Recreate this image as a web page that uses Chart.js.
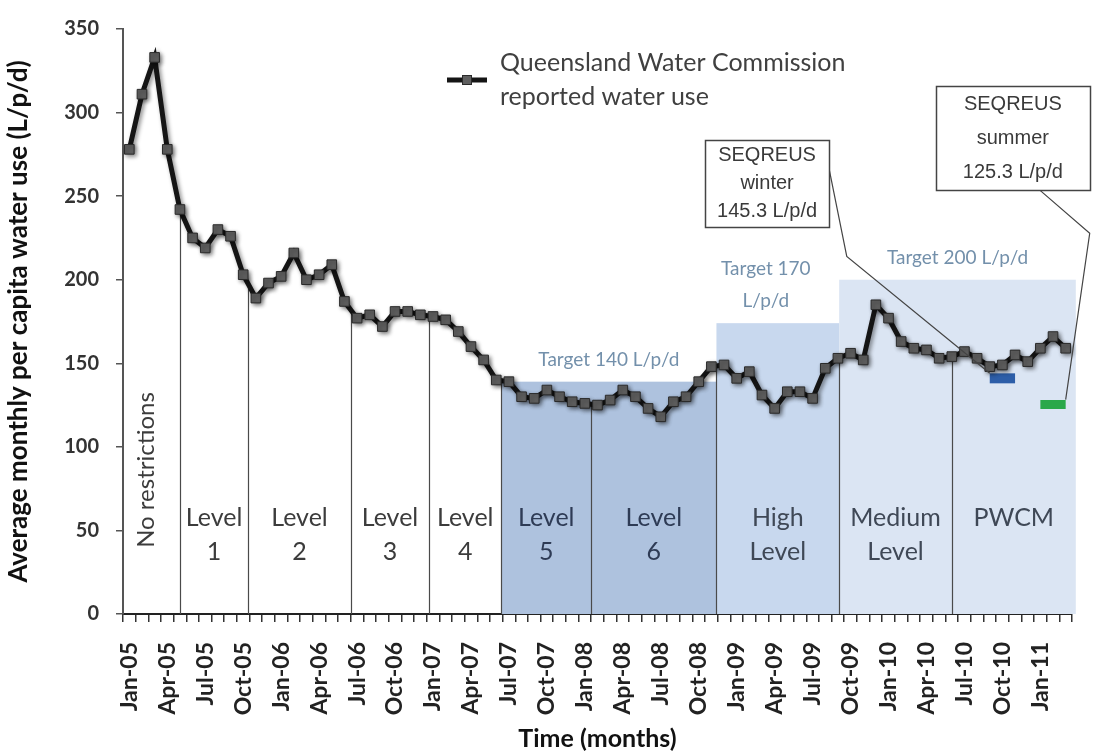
<!DOCTYPE html>
<html>
<head>
<meta charset="utf-8">
<script src="https://cdn.jsdelivr.net/npm/chart.js@4.4.1/dist/chart.umd.min.js"></script>
<style>
  html, body { margin: 0; padding: 0; background: #fff; }
  #wrap { width: 1097px; height: 756px; }
</style>
</head>
<body>
<div id="wrap"><canvas id="graph1"></canvas></div>
<script>
// monthly categories, Jan-05 .. Mar-11
const months = [
  'Jan-05','Feb-05','Mar-05','Apr-05','May-05','Jun-05','Jul-05','Aug-05','Sep-05','Oct-05','Nov-05','Dec-05',
  'Jan-06','Feb-06','Mar-06','Apr-06','May-06','Jun-06','Jul-06','Aug-06','Sep-06','Oct-06','Nov-06','Dec-06',
  'Jan-07','Feb-07','Mar-07','Apr-07','May-07','Jun-07','Jul-07','Aug-07','Sep-07','Oct-07','Nov-07','Dec-07',
  'Jan-08','Feb-08','Mar-08','Apr-08','May-08','Jun-08','Jul-08','Aug-08','Sep-08','Oct-08','Nov-08','Dec-08',
  'Jan-09','Feb-09','Mar-09','Apr-09','May-09','Jun-09','Jul-09','Aug-09','Sep-09','Oct-09','Nov-09','Dec-09',
  'Jan-10','Feb-10','Mar-10','Apr-10','May-10','Jun-10','Jul-10','Aug-10','Sep-10','Oct-10','Nov-10','Dec-10',
  'Jan-11','Feb-11','Mar-11'
];

// L/p/d
const waterUse = [
  278, 311, 333, 278, 242, 225, 219, 230, 226, 203, 189, 198,
  202, 216, 200, 203, 209, 187, 177, 179, 172, 181, 181, 179,
  178, 176, 169, 160, 152, 140, 139, 130, 129, 134, 130, 127,
  126, 125, 128, 134, 130, 123, 118, 127, 130, 139, 148, 149,
  141, 145, 131, 123, 133, 133, 129, 147, 153, 156, 152, 185,
  177, 163, 159, 158, 153, 154, 157, 153, 148, 149, 155, 151,
  159, 166, 159
];

const yTicks = [0, 50, 100, 150, 200, 250, 300, 350];

const winterMonths = ['Sep-10', 'Nov-10'];
const winterValue = 141;
const summerMonths = ['Jan-11', 'Mar-11'];
const summerValue = 125.3;

// restriction periods (start as month index, fractional)
const regionNames = [['No restrictions'], ['Level', '1'], ['Level', '2'], ['Level', '3'], ['Level', '4'],
  ['Level', '5'], ['Level', '6'], ['High', 'Level'], ['Medium', 'Level'], ['PWCM']];
const regionStarts = [-0.5, 4, 9.4, 17.5, 23.7, 29.4, 36.5, 46.4, 56.1, 65];
const regionEnd = 74.8;

// consumption targets
const targetNames = [['Target 140 L/p/d'], ['Target 170', 'L/p/d'], ['Target 200 L/p/d']];
const targetFrom = [29.4, 46.4, 56.1];
const targetTo = [46.4, 56.1, 74.8];
const targetValues = [139, 174, 200];

const calloutText = [['SEQREUS', 'winter', '145.3 L/p/d'], ['SEQREUS', 'summer', '125.3 L/p/d']];

const LATO = 'Lato, "Open Sans", sans-serif';

const backdrop = {
  id: 'backdrop',
  beforeDatasetsDraw(chart) {
    const {ctx, scales: {x, y}} = chart;
    const pts = chart.getDatasetMeta(0).data;
    const lineAt = idx => {
      const i0 = Math.max(0, Math.min(pts.length - 2, Math.floor(idx)));
      const t = idx - i0;
      return pts[i0].y + (pts[i0 + 1].y - pts[i0].y) * t;
    };
    const fills = ['#aec2de', '#c8d8ee', '#dbe5f3'];
    const y0 = y.getPixelForValue(0);
    ctx.save();
    targetValues.forEach((v, k) => {
      const x0 = x.getPixelForValue(targetFrom[k]);
      const x1 = x.getPixelForValue(targetTo[k]);
      const top = y.getPixelForValue(v);
      ctx.fillStyle = fills[k];
      ctx.fillRect(x0, top, x1 - x0, y0 - top);

      ctx.fillStyle = '#7390ab';
      ctx.font = '19px ' + LATO;
      ctx.textAlign = 'center';
      ctx.textBaseline = 'middle';
      const lines = targetNames[k];
      lines.forEach((t, j) => {
        ctx.fillText(t, (x0 + x1) / 2 - (k === 1 ? 12 : 0), top - 22 - (lines.length - 1 - j) * 32);
      });
    });

    // period boundaries
    ctx.strokeStyle = '#4a4a4a';
    ctx.lineWidth = 1.2;
    for (let k = 1; k < regionStarts.length; k++) {
      const px = Math.round(x.getPixelForValue(regionStarts[k])) + 0.5;
      ctx.beginPath();
      ctx.moveTo(px, y0);
      ctx.lineTo(px, lineAt(regionStarts[k]));
      ctx.stroke();
    }

    // period names
    ctx.textAlign = 'center';
    ctx.textBaseline = 'middle';
    regionNames.forEach((lines, k) => {
      const s = regionStarts[k];
      const e = k + 1 < regionStarts.length ? regionStarts[k + 1] : regionEnd;
      const cx = (x.getPixelForValue(s) + x.getPixelForValue(e)) / 2;
      ctx.fillStyle = k < 5 ? '#3c3c3c' : (k < 7 ? '#2e3b55' : '#3f4856');
      if (k === 0) {
        ctx.save();
        ctx.font = '24px ' + LATO;
        ctx.translate(cx - 5, y0 - 144);
        ctx.rotate(-Math.PI / 2);
        ctx.fillText(lines[0], 0, 0);
        ctx.restore();
        return;
      }
      ctx.font = '25px ' + LATO;
      lines.forEach((t, j) => ctx.fillText(t, cx, y0 - 96 + j * 34));
    });
    ctx.restore();
  },
  beforeDatasetDraw(chart, args) {
    if (args.index !== 0) return;
    const ctx = chart.ctx;
    ctx.save();
    ctx.shadowColor = 'rgba(0,0,0,0.45)';
    ctx.shadowBlur = 4;
    ctx.shadowOffsetX = 2;
    ctx.shadowOffsetY = 2;
  },
  afterDatasetDraw(chart, args) {
    if (args.index === 0) chart.ctx.restore();
  },
  afterDatasetsDraw(chart) {
    const {ctx, scales: {x, y}} = chart;
    const P = (i, v) => [x.getPixelForValue(i), y.getPixelForValue(v)];
    const wi = months.indexOf(winterMonths[0]);
    const si = months.indexOf(summerMonths[1]);
    const callouts = [
      {box: [45.5, 283.6, 55.3, 231.4], path: [P(55.3, 266.4), P(56.7, 213.9), [x.getPixelForValue(wi), y.getPixelForValue(winterValue) - 5]]},
      {box: [63.75, 315.6, 75.9, 253.3], path: [P(72, 253.3), P(75.9, 227.8), [x.getPixelForValue(si), y.getPixelForValue(summerValue) - 5]]}
    ];
    ctx.save();
    callouts.forEach((c, k) => {
      ctx.strokeStyle = '#444';
      ctx.lineWidth = 1.2;
      ctx.beginPath();
      c.path.forEach((p, j) => j ? ctx.lineTo(p[0], p[1]) : ctx.moveTo(p[0], p[1]));
      ctx.stroke();
      const [l, t] = P(c.box[0], c.box[1]);
      const [r, b] = P(c.box[2], c.box[3]);
      ctx.fillStyle = '#fff';
      ctx.fillRect(l, t, r - l, b - t);
      ctx.lineWidth = 1.5;
      ctx.strokeRect(Math.round(l) + 0.5, Math.round(t) + 0.5, Math.round(r - l), Math.round(b - t));
      ctx.fillStyle = '#3a3a3a';
      ctx.font = '20px "Liberation Sans", Arial, sans-serif';
      ctx.textAlign = 'center';
      ctx.textBaseline = 'middle';
      const n = calloutText[k].length;
      const gap = (b - t) / (n + 0.1);
      calloutText[k].forEach((s, j) => ctx.fillText(s, (l + r) / 2, t + gap * (j + 0.55)));
    });
    ctx.restore();
  },
  afterDraw(chart) {
    // legend
    const ctx = chart.ctx;
    const ds = chart.data.datasets[0];
    ctx.save();
    ctx.strokeStyle = ds.borderColor;
    ctx.lineWidth = ds.borderWidth;
    ctx.beginPath();
    ctx.moveTo(447, 80);
    ctx.lineTo(487, 80);
    ctx.stroke();
    ctx.fillStyle = ds.pointBackgroundColor;
    ctx.strokeStyle = ds.pointBorderColor;
    ctx.lineWidth = 1;
    ctx.fillRect(462.5, 75.5, 9, 9);
    ctx.strokeRect(462.5, 75.5, 9, 9);
    ctx.fillStyle = '#404040';
    ctx.font = '25px ' + LATO;
    ctx.textAlign = 'left';
    ctx.textBaseline = 'middle';
    ctx.fillText(ds.label[0], 500, 63);
    ctx.fillText(ds.label[1], 500, 97);
    ctx.restore();
  }
};

const config = {
  type: 'line',
  data: {
    labels: months,
    datasets: [
      {
        label: ['Queensland Water Commission', 'reported water use'],
        data: waterUse,
        borderColor: '#151515',
        borderWidth: 5,
        pointStyle: 'rect',
        pointRadius: 6.8,
        pointBackgroundColor: '#5f5f5f',
        pointBorderColor: '#2a2a2a',
        pointBorderWidth: 1,
        tension: 0
      },
      {
        label: 'SEQREUS winter',
        data: winterMonths.map(m => ({x: m, y: winterValue})),
        borderColor: '#2d5ea8',
        borderWidth: 10,
        borderCapStyle: 'butt',
        pointRadius: 0
      },
      {
        label: 'SEQREUS summer',
        data: summerMonths.map(m => ({x: m, y: summerValue})),
        borderColor: '#2aa84a',
        borderWidth: 9,
        borderCapStyle: 'butt',
        pointRadius: 0
      }
    ]
  },
  options: {
    responsive: true,
    maintainAspectRatio: false,
    animation: false,
    layout: {padding: {top: 24, right: 25, left: 0, bottom: 0}},
    scales: {
      x: {
        offset: true,
        afterFit: s => { s.height = 142; s.paddingLeft = 0; s.paddingRight = 0; },
        border: {color: '#222', width: 2},
        grid: {offset: true, drawOnChartArea: false, tickLength: 8, color: '#333', lineWidth: 1.5},
        ticks: {
          autoSkip: false,
          maxRotation: 90,
          minRotation: 90,
          padding: 20,
          color: '#222',
          font: {family: LATO, size: 23, weight: 'bold'},
          callback: function(value, index) {
            return index % 3 === 0 ? months[index] : '';
          }
        },
        title: {
          display: true,
          text: 'Time (months)',
          color: '#111',
          font: {family: LATO, size: 25, weight: 'bold'},
          padding: {top: 0, bottom: 2}
        }
      },
      y: {
        min: 0,
        max: 350,
        afterFit: s => { s.width = 123; },
        afterBuildTicks: s => { s.ticks = yTicks.map(v => ({value: v})); },
        border: {color: '#555', width: 2},
        grid: {drawOnChartArea: false, tickLength: 7, color: '#555', lineWidth: 1.5},
        ticks: {
          padding: 17,
          color: '#333',
          font: {family: LATO, size: 20, weight: 'bold'}
        },
        title: {
          display: true,
          text: 'Average monthly per capita water use (L/p/d)',
          color: '#111',
          font: {family: LATO, size: 26, weight: 'bold'},
          padding: {top: 3, bottom: 0}
        }
      }
    },
    plugins: {
      legend: {display: false},
      tooltip: {enabled: false}
    }
  },
  plugins: [backdrop]
};

const myChart = new Chart(document.getElementById('graph1'), config);
</script>
</body>
</html>
